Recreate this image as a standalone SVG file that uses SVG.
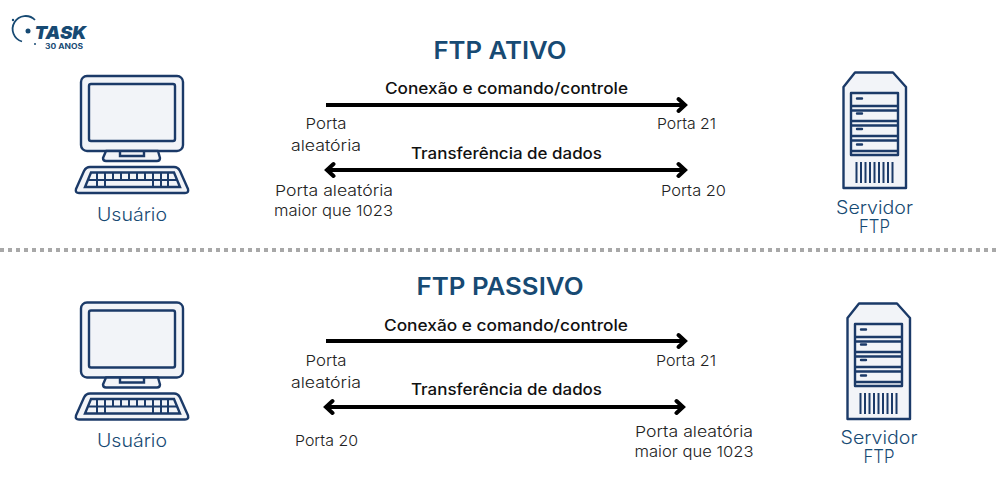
<svg xmlns="http://www.w3.org/2000/svg" width="1000" height="500" viewBox="0 0 1000 500">
<style>
text{font-family:"Inter","Noto Sans","Liberation Sans",sans-serif;text-anchor:middle}
.title{font-size:24px;font-weight:600;fill:#174a73}
.node{font-size:18px;font-weight:300;fill:#174a73}
.edge{font-size:15.5px;font-weight:500;fill:#111}
.port{font-size:15px;font-weight:300;fill:#222}
.ln{stroke:#000;stroke-width:4;fill:none}
.head{stroke:#000;stroke-width:4;fill:none;stroke-linecap:round;stroke-linejoin:miter}
.ic{stroke:#1b3a68;stroke-width:2.4;fill:#f2f4f8;stroke-linejoin:round}
.in{stroke:#1b3a68;stroke-width:2.4;fill:none}
.bar{stroke:#1b3a68;stroke-width:2;fill:none}
.led{stroke:#1b3a68;stroke-width:2.4;stroke-linecap:round;fill:none}
.logo{fill:#174a73}
</style>
<defs>
<g id="computer">
<rect class="ic" x="81" y="76" width="102" height="75" rx="6"/>
<rect class="ic" x="89" y="84" width="86" height="57" rx="2"/>
<path class="ic" d="M106 151H158L160 158Q160 161 157 161H106Q103 161 103 158Z"/>
<path class="in" d="M120 151V156H144V151"/>
<path class="ic" d="M90 167H174Q178 167 180 171L188 189Q189 193 185 193H79Q75 193 76 189L84 171Q86 167 90 167Z"/>
<path class="in" d="M91 172.500H174L180 187H85Z"/>
<path class="bar" d="M88.500 180H177M97 172.500V187M105 172.500V187M113 172.500V180M121 172.500V180M129 172.500V180M137 172.500V180M145 172.500V180M153 172.500V187M161 172.500V187M168 172.500V187"/>
</g>
<g id="server">
<path class="ic" d="M855 72.500H893L906 87V188H843.500V87Z"/>
<rect class="ic" x="851" y="93" width="47" height="62"/>
<path class="in" d="M851 106H898M851 110.500H898M851 121H898M851 125.500H898M851 136H898M851 140.500H898M851 151H898"/>
<path class="led" d="M857 98.500H862M857 113.500H862M857 129H862M857 144.500H862"/>
<path class="bar" d="M856.500 162V183M861 162V183M865.500 162V183M870 162V183M874.500 162V183M879 162V183M883.500 162V183M888 162V183M892.500 162V183"/>
</g>
</defs>

<g id="logo">
<path d="M35 20A13 13 0 1 0 22 41.500" fill="none" stroke="#174a73" stroke-width="1.800"/>
<circle class="logo" cx="28" cy="31" r="2.500"/>
<circle class="logo" cx="35" cy="44" r="1"/>
<circle class="logo" cx="13" cy="20" r="1.200"/>
<text class="logo" x="60.500" y="38.500" style="font-size:18px;font-weight:900;font-style:italic" textLength="52" lengthAdjust="spacingAndGlyphs">TASK</text>
<text class="logo" x="64" y="49" style="font-size:7px;font-weight:700" textLength="38" lengthAdjust="spacingAndGlyphs">30 ANOS</text>
</g>

<text class="title" x="500" y="59" textLength="133" lengthAdjust="spacingAndGlyphs">FTP ATIVO</text>
<text class="title" x="500" y="295" textLength="167" lengthAdjust="spacingAndGlyphs">FTP PASSIVO</text>

<g id="connectors">
<path class="ln" d="M326 105H684"/>
<path class="head" d="M678.500 99L685 105L678.500 111"/>
<path class="ln" d="M328 170H684"/>
<path class="head" d="M678.500 164L685 170L678.500 176M333.500 164L327 170L333.500 176"/>
<path class="ln" d="M326 341H684"/>
<path class="head" d="M678.500 335L685 341L678.500 347"/>
<path class="ln" d="M327 407H682"/>
<path class="head" d="M676.500 401L683 407L676.500 413M332.500 401L326 407L332.500 413"/>
</g>

<path id="divider" d="M0 250H1000" stroke="#a8a8a8" stroke-width="4" stroke-dasharray="4 4" fill="none"/>

<g id="usuario-ativo">
<use href="#computer"/>
<text class="node" x="132" y="221" textLength="70" lengthAdjust="spacingAndGlyphs">Usuário</text>
</g>
<g id="servidor-ativo">
<use href="#server"/>
<text class="node" x="874.500" y="214" textLength="77" lengthAdjust="spacingAndGlyphs">Servidor</text>
<text class="node" x="874.500" y="233" textLength="31" lengthAdjust="spacingAndGlyphs">FTP</text>
</g>
<g id="usuario-passivo">
<use href="#computer" y="226.500"/>
<text class="node" x="132" y="447" textLength="70" lengthAdjust="spacingAndGlyphs">Usuário</text>
</g>
<g id="servidor-passivo">
<use href="#server" x="4" y="231"/>
<text class="node" x="879" y="444" textLength="77" lengthAdjust="spacingAndGlyphs">Servidor</text>
<text class="node" x="879" y="463" textLength="31" lengthAdjust="spacingAndGlyphs">FTP</text>
</g>

<g id="labels-ativo">
<text class="edge" x="506.500" y="94" textLength="243" lengthAdjust="spacingAndGlyphs">Conexão e comando/controle</text>
<text class="edge" x="506.500" y="159" textLength="191" lengthAdjust="spacingAndGlyphs">Transferência de dados</text>
<text class="port" x="326" y="129" textLength="41" lengthAdjust="spacingAndGlyphs">Porta</text>
<text class="port" x="326" y="151" textLength="70" lengthAdjust="spacingAndGlyphs">aleatória</text>
<text class="port" x="686.500" y="129" textLength="59" lengthAdjust="spacingAndGlyphs">Porta 21</text>
<text class="port" x="334" y="196" textLength="118" lengthAdjust="spacingAndGlyphs">Porta aleatória</text>
<text class="port" x="333.500" y="216" textLength="119" lengthAdjust="spacingAndGlyphs">maior que 1023</text>
<text class="port" x="693.500" y="196" textLength="65" lengthAdjust="spacingAndGlyphs">Porta 20</text>
</g>
<g id="labels-passivo">
<text class="edge" x="506" y="331" textLength="244" lengthAdjust="spacingAndGlyphs">Conexão e comando/controle</text>
<text class="edge" x="506.500" y="395" textLength="191" lengthAdjust="spacingAndGlyphs">Transferência de dados</text>
<text class="port" x="326" y="366" textLength="41" lengthAdjust="spacingAndGlyphs">Porta</text>
<text class="port" x="326" y="388" textLength="70" lengthAdjust="spacingAndGlyphs">aleatória</text>
<text class="port" x="686" y="366" textLength="60" lengthAdjust="spacingAndGlyphs">Porta 21</text>
<text class="port" x="326.500" y="446" textLength="63" lengthAdjust="spacingAndGlyphs">Porta 20</text>
<text class="port" x="694" y="437" textLength="118" lengthAdjust="spacingAndGlyphs">Porta aleatória</text>
<text class="port" x="694" y="457" textLength="119" lengthAdjust="spacingAndGlyphs">maior que 1023</text>
</g>
</svg>
